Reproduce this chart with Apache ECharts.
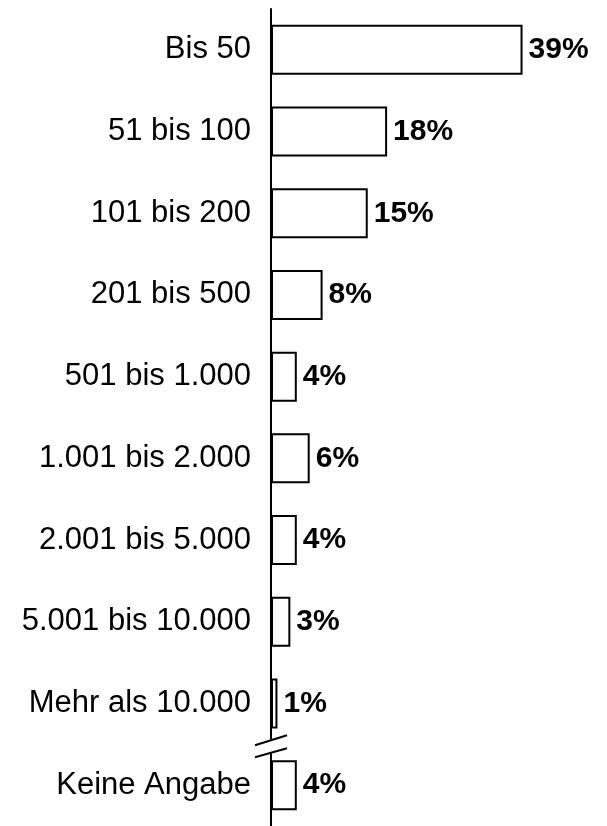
<!DOCTYPE html>
<html>
<head>
<meta charset="utf-8">
<script src="https://cdn.jsdelivr.net/npm/echarts@6/dist/echarts.min.js"></script>
<style>html,body{margin:0;padding:0;background:#fff}#c{width:607px;height:826px}</style>
</head>
<body>
<div id="c"></div>
<script>
var categories = ["Bis 50","51 bis 100","101 bis 200","201 bis 500","501 bis 1.000","1.001 bis 2.000","2.001 bis 5.000","5.001 bis 10.000","Mehr als 10.000","Keine Angabe"];
var values = [39,18,15,8,4,6,4,3,1,4];
var valueLabels = ["39%","18%","15%","8%","4%","6%","4%","3%","1%","4%"];

var chart = echarts.init(document.getElementById('c'));
var option = {
  animation:false,
  backgroundColor:'#fff',
  grid:{left:271,right:78,top:9,bottom:0},
  xAxis:{type:'value',min:0,max:40,show:false},
  yAxis:{type:'category',inverse:true,data:categories,
    axisLine:{show:true,lineStyle:{color:'#000',width:2}},
    axisTick:{show:false},
    axisLabel:{margin:20,color:'#000',fontSize:31,fontFamily:'Liberation Sans, Arial, sans-serif'}
  },
  series:[{type:'bar',data:values,barWidth:50,
    itemStyle:{color:'#fff',borderColor:'#000',borderWidth:2},
    label:{show:true,position:'right',distance:6,color:'#000',fontWeight:'bold',fontSize:30,
      fontFamily:'Liberation Sans, Arial, sans-serif',
      formatter:function(p){return valueLabels[p.dataIndex];}}
  }]
};
chart.setOption(option);
var ax = chart.convertToPixel({xAxisIndex:0},0);
var y8 = chart.convertToPixel({yAxisIndex:0},categories[8]);
var y9 = chart.convertToPixel({yAxisIndex:0},categories[9]);
var mid = (y8+y9)/2 + 2;
chart.setOption({graphic:[
  {type:'rect',shape:{x:ax-3,y:mid-7,width:6,height:14},style:{fill:'#fff'},z:100},
  {type:'line',shape:{x1:ax-16,y1:mid-1,x2:ax+16,y2:mid-11},style:{stroke:'#000',lineWidth:2},z:101},
  {type:'line',shape:{x1:ax-16,y1:mid+11,x2:ax+16,y2:mid+2},style:{stroke:'#000',lineWidth:2},z:101}
]});
</script>
</body>
</html>
